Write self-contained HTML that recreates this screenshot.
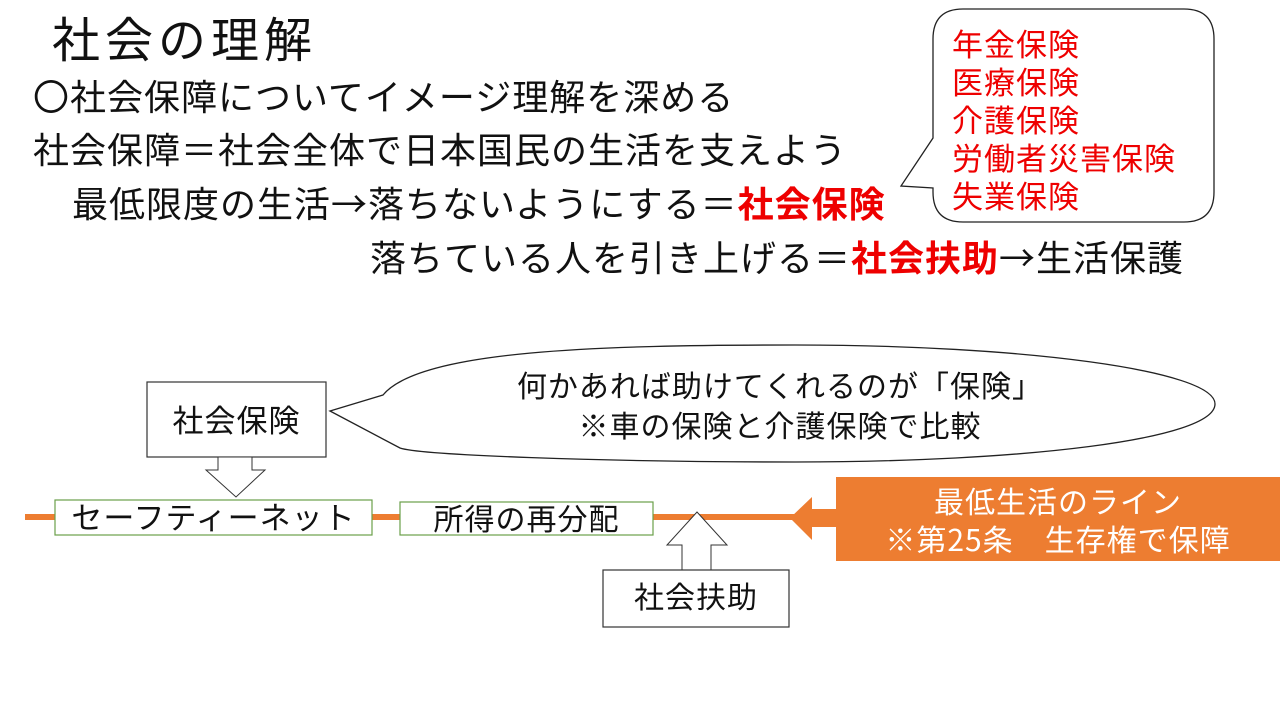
<!DOCTYPE html>
<html><head><meta charset="utf-8"><style>
body{margin:0;width:1280px;height:720px;background:#fff;position:relative;overflow:hidden;font-family:"Noto Sans CJK JP","Liberation Sans",sans-serif;color:#111}
.t{position:absolute;white-space:nowrap;line-height:1}
.r{color:#e00;font-weight:bold}
.big{font-size:36px;letter-spacing:1px}
</style></head><body>
<svg width="1280" height="720" style="position:absolute;left:0;top:0">
<path d="M963,9 H1184 Q1214,9 1214,39 V192 Q1214,222 1184,222 H963 Q933,222 933,192 V188 L901,186 L933,138 V39 Q933,9 963,9 Z" fill="#fff" stroke="#222" stroke-width="1.3"/>
<path d="M330,411 L383,395 C420,350 600,345 795,345 C1020,345 1215,370 1215,404 C1215,440 1020,462 795,462 C600,462 420,455 400,448 Z" fill="#fff" stroke="#222" stroke-width="1.3"/>
<line x1="25" y1="517" x2="795" y2="517" stroke="#ED7D31" stroke-width="6"/>
<rect x="147" y="382" width="179" height="75" fill="#fff" stroke="#333" stroke-width="1.2"/>
<path d="M218,457 H252 V470 H265 L236,497 L206,470 H218 Z" fill="#fff" stroke="#333" stroke-width="1"/>
<rect x="55" y="500" width="317" height="35" fill="#fff" stroke="#6a9f4a" stroke-width="1.2"/>
<rect x="400" y="502" width="253" height="33" fill="#fff" stroke="#6a9f4a" stroke-width="1.2"/>
<path d="M697,512 L727,545 H711 V570 H682 V545 H667 Z" fill="#fff" stroke="#333" stroke-width="1"/>
<rect x="603" y="570" width="186" height="57" fill="#fff" stroke="#333" stroke-width="1.2"/>
<rect x="836" y="477" width="444" height="84" fill="#ED7D31"/>
<path d="M790,518 L812,497 V509 H836 V527 H812 V540 Z" fill="#ED7D31"/>
</svg>
<div class="t" style="left:52px;top:12px;font-size:48px;letter-spacing:5px">社会の理解</div>
<div class="t big" style="left:33px;top:77px">〇社会保障についてイメージ理解を深める</div>
<div class="t big" style="left:33px;top:130px">社会保障＝社会全体で日本国民の生活を支えよう</div>
<div class="t big" style="left:72px;top:184px">最低限度の生活→落ちないようにする＝<span class="r">社会保険</span></div>
<div class="t big" style="left:370px;top:238px">落ちている人を引き上げる＝<span class="r">社会扶助</span>→生活保護</div>
<div class="t" style="left:952px;top:24px;font-size:31px;letter-spacing:1px;color:#e00;line-height:38px">年金保険<br>医療保険<br>介護保険<br>労働者災害保険<br>失業保険</div>
<div class="t" style="left:470px;top:364px;width:620px;text-align:center;font-size:30px;letter-spacing:1px;line-height:40px">何かあれば助けてくれるのが「保険」<br>※車の保険と介護保険で比較</div>
<div class="t" style="left:147px;top:403px;width:179px;text-align:center;font-size:31px;letter-spacing:1px">社会保険</div>
<div class="t" style="left:55px;top:500px;width:317px;text-align:center;font-size:31px;letter-spacing:1px">セーフティーネット</div>
<div class="t" style="left:400px;top:502px;width:253px;text-align:center;font-size:30px;letter-spacing:1px">所得の再分配</div>
<div class="t" style="left:603px;top:580px;width:186px;text-align:center;font-size:30px;letter-spacing:1px">社会扶助</div>
<div class="t" style="left:836px;top:481px;width:444px;text-align:center;font-size:30px;letter-spacing:1px;color:#fff;line-height:38px">最低生活のライン<br>※第25条　生存権で保障</div>
</body></html>
